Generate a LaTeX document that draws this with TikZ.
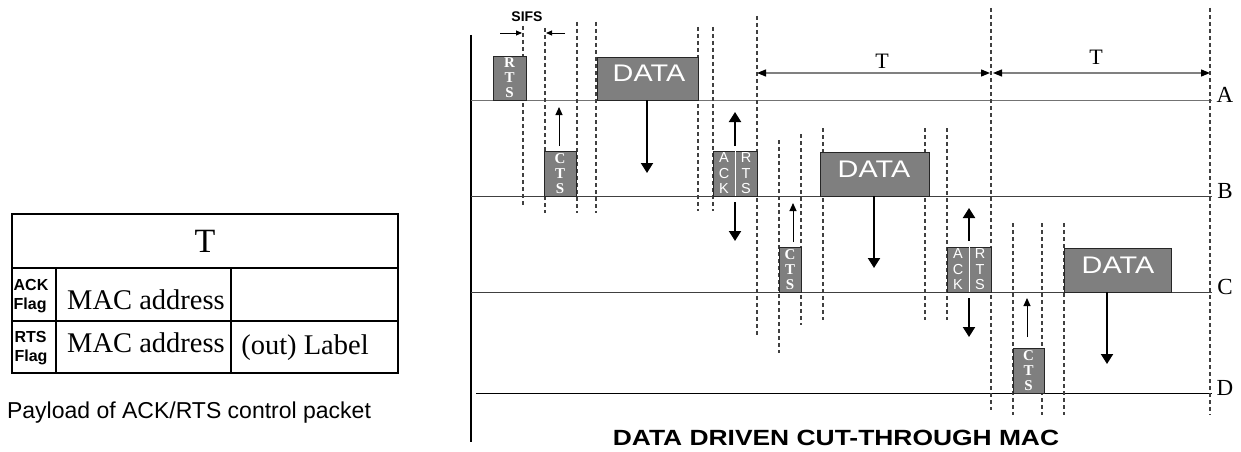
\documentclass[tikz,border=0pt]{standalone}
\usepackage{fontspec}
\setmainfont{Liberation Serif}
\setsansfont{Liberation Sans}
\usetikzlibrary{arrows.meta}
\definecolor{pktgray}{HTML}{7F7F7F}
\begin{document}
\begin{tikzpicture}[x=1pt,y=-1pt,
  pkt/.style={draw=black!85,fill=pktgray,line width=0.8pt,inner sep=0pt,outer sep=0pt,anchor=south west},
  dline/.style={draw=black!75,line width=1.1pt,dash pattern=on 4pt off 3pt},
  hline/.style={line width=0.9pt},
  bigarr/.style={line width=2pt,-{Triangle[length=10pt,width=12pt]}},
  smallarr/.style={line width=1pt,-{Triangle[length=8pt,width=7pt]}},
  tarr/.style={draw=black!50,line width=1.2pt,{Triangle[length=9pt,width=7pt,color=black]}-{Triangle[length=9pt,width=7pt,color=black]}},
  sifsarr/.style={line width=0.9pt,-{Triangle[length=6pt,width=5pt]}},
  serifpkt/.style={text=white,font=\fontsize{15}{15}\selectfont\bfseries,align=center,inner sep=0pt},
  sanspkt/.style={text=white,font=\sffamily\fontsize{14.5}{15.5}\selectfont,align=center,inner sep=0pt},
  datatxt/.style={text=white,font=\sffamily\fontsize{24}{26}\selectfont,inner sep=0pt},
  lane/.style={font=\fontsize{23}{25}\selectfont,inner sep=0pt},
  tcell/.style={font=\fontsize{28.5}{30}\selectfont,inner sep=0pt},
  flag/.style={font=\sffamily\bfseries\fontsize{16}{18.5}\selectfont,align=left,inner sep=0pt},
  tab/.style={line width=1.2pt}
]
\useasboundingbox (0,0) rectangle (1241,452);

% ---------- Table ----------
\draw[tab] (12,214) rectangle (398,373);
\draw[tab] (12,268) -- (398,268);
\draw[tab] (12,321) -- (398,321);
\draw[tab] (56,268) -- (56,373);
\draw[tab] (231,268) -- (231,373);
\node[font=\fontsize{34}{36}\selectfont,inner sep=0pt] (tT) at (205,241) {T};
\node[flag] (f1) at (31,296) {ACK\\Flag};
\node[flag] (f2) at (31,348) {RTS\\Flag};
\node[tcell] (m1) at (146,300) {MAC address};
\node[tcell] (m2) at (146,343) {MAC address};
\node[tcell] (ol) at (305,348) {(out) Label};
\node[font=\sffamily\fontsize{23}{25}\selectfont,inner sep=0pt] (cap1) at (189,413) {Payload of ACK/RTS control packet};

% ---------- Timing diagram ----------
\draw[line width=2pt] (471,35) -- (471,442);
\draw[hline,draw=black!55] (471,100) -- (1212,100);
\draw[hline,draw=black!75] (471,196) -- (1212,196);
\draw[hline,draw=black!75] (471,292) -- (1212,292);
\draw[hline,draw=black] (476,393) -- (1212,393);
\node[lane] (lA) at (1225,95) {A};
\node[lane] (lB) at (1225,191) {B};
\node[lane] (lC) at (1225,287) {C};
\node[lane] (lD) at (1225,388) {D};

% dashed guides
\foreach \x/\a/\b in {523/26/205,545/28/213,577/22/213,596/22/213,698/27/211,713/27/211,
  757/16/335,779/140/353,801/134/325,823/128/320,925/128/320,947/128/320,
  991/8/410,1013/223/415,1042/223/415,1064/223/415,1210/8/415}
  \draw[dline] (\x,\a) -- (\x,\b);

% packets
\node[pkt,minimum width=33pt,minimum height=44pt] (rtsA) at (493,100) {};
\node[serifpkt] (rtsAt) at (rtsA.center) {R\\T\\S};
\node[pkt,minimum width=32pt,minimum height=45pt] (ctsB) at (544,196) {};
\node[serifpkt] (ctsBt) at (ctsB.center) {C\\T\\S};
\node[pkt,minimum width=101pt,minimum height=43pt] (dataA) at (597,100) {};
\node[datatxt] (dataAt) at (649,73) {\scalebox{1.2}[1]{DATA}};

\node[pkt,minimum width=44pt,minimum height=45pt] (ackB) at (713,196) {};
\draw[white,line width=1pt] (ackB.north) -- (ackB.south);
\node[sanspkt] (ackBl) at (724,173.5) {A\\C\\K};
\node[sanspkt] (ackBr) at (746,173.5) {R\\T\\S};
\node[pkt,minimum width=22pt,minimum height=45pt] (ctsC) at (779,292) {};
\node[serifpkt] (ctsCt) at (ctsC.center) {C\\T\\S};
\node[pkt,minimum width=109pt,minimum height=44pt] (dataB) at (820,196) {};
\node[datatxt] (dataBt) at (874,169) {\scalebox{1.2}[1]{DATA}};

\node[pkt,minimum width=44pt,minimum height=45pt] (ackC) at (947,292) {};
\draw[white,line width=1pt] (ackC.north) -- (ackC.south);
\node[sanspkt] (ackCl) at (958,269.5) {A\\C\\K};
\node[sanspkt] (ackCr) at (980,269.5) {R\\T\\S};
\node[pkt,minimum width=31pt,minimum height=45pt] (ctsD) at (1013,393) {};
\node[serifpkt] (ctsDt) at (ctsD.center) {C\\T\\S};
\node[pkt,minimum width=107pt,minimum height=44pt] (dataC) at (1064,292) {};
\node[datatxt] (dataCt) at (1118,265) {\scalebox{1.2}[1]{DATA}};

% arrows
\coordinate (a1s) at (647,100); \coordinate (a1e) at (647,173);
\draw[bigarr] (a1s) -- (a1e);
\coordinate (c1s) at (559,146); \coordinate (c1e) at (559,107);
\draw[smallarr] (c1s) -- (c1e);
\coordinate (k1us) at (735,146); \coordinate (k1ue) at (735,112);
\draw[bigarr] (k1us) -- (k1ue);
\coordinate (k1ds) at (735,202); \coordinate (k1de) at (735,241);
\draw[bigarr] (k1ds) -- (k1de);
\coordinate (c2s) at (793,242); \coordinate (c2e) at (793,203);
\draw[smallarr] (c2s) -- (c2e);
\coordinate (a2s) at (874,196); \coordinate (a2e) at (874,268);
\draw[bigarr] (a2s) -- (a2e);
\coordinate (k2us) at (969,241); \coordinate (k2ue) at (969,208);
\draw[bigarr] (k2us) -- (k2ue);
\coordinate (k2ds) at (969,298); \coordinate (k2de) at (969,337);
\draw[bigarr] (k2ds) -- (k2de);
\coordinate (c3s) at (1027,337); \coordinate (c3e) at (1027,298);
\draw[smallarr] (c3s) -- (c3e);
\coordinate (a3s) at (1107,292); \coordinate (a3e) at (1107,364);
\draw[bigarr] (a3s) -- (a3e);

% T spans
\coordinate (t1a) at (757,73); \coordinate (t1b) at (990,73);
\coordinate (t2a) at (993,73); \coordinate (t2b) at (1210,73);
\draw[tarr] (t1a) -- (t1b);
\draw[tarr] (t2a) -- (t2b);
\node[font=\fontsize{22}{24}\selectfont,inner sep=0pt] (T1) at (882,61) {T};
\node[font=\fontsize{22}{24}\selectfont,inner sep=0pt] (T2) at (1096,57) {T};

% SIFS
\node[font=\sffamily\bfseries\fontsize{14}{16}\selectfont,inner sep=0pt] (sifs) at (527,17) {SIFS};
\coordinate (s1a) at (500,33); \coordinate (s1b) at (522,33);
\coordinate (s2a) at (565,33); \coordinate (s2b) at (546,33);
\draw[sifsarr] (s1a) -- (s1b);
\draw[sifsarr] (s2a) -- (s2b);

% title
\node[font=\sffamily\bfseries\fontsize{22}{24}\selectfont,inner sep=0pt] (title) at (836,438) {\scalebox{1.2}[1]{DATA DRIVEN CUT-THROUGH MAC}};
\end{tikzpicture}
\end{document}
